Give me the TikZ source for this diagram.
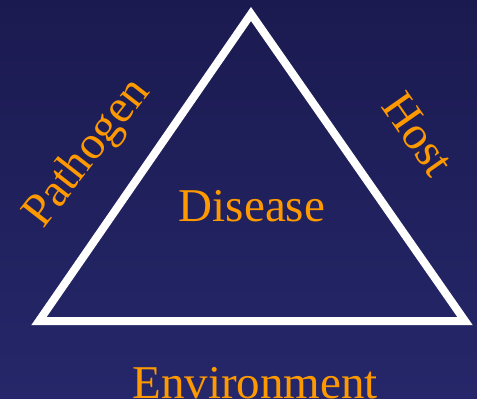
\documentclass[tikz,border=0pt]{standalone}
\usepackage{fontspec}
\setmainfont{Liberation Serif}
\begin{document}
\begin{tikzpicture}[x=1pt,y=-1pt,
  lbl/.style={text=labelorange,font=\fontsize{47}{50}\selectfont,inner sep=0pt},
  edge/.style={draw=white,line width=8pt,line join=miter}]
\definecolor{labelorange}{RGB}{255,153,0}
\definecolor{bgtop}{RGB}{27,26,80}
\definecolor{bgbot}{RGB}{37,39,106}
\useasboundingbox (0,0) rectangle (477,399);
\shade[top color=bgtop,bottom color=bgbot] (0,0) rectangle (477,399);
\coordinate (A) at (251,14);
\coordinate (B) at (39,321);
\coordinate (C) at (465,321);
\draw[edge] (A) -- (B) -- (C) -- cycle;
\node[lbl,anchor=base] (dis) at (252,221) {Disease};
\node[lbl,anchor=base] (env) at (255,398) {Environment};
\node[lbl,rotate=52] (pat) at (88,154) {Pathogen};
\node[lbl,rotate=-55] (host) at (418,134) {Host};
\end{tikzpicture}
\end{document}
